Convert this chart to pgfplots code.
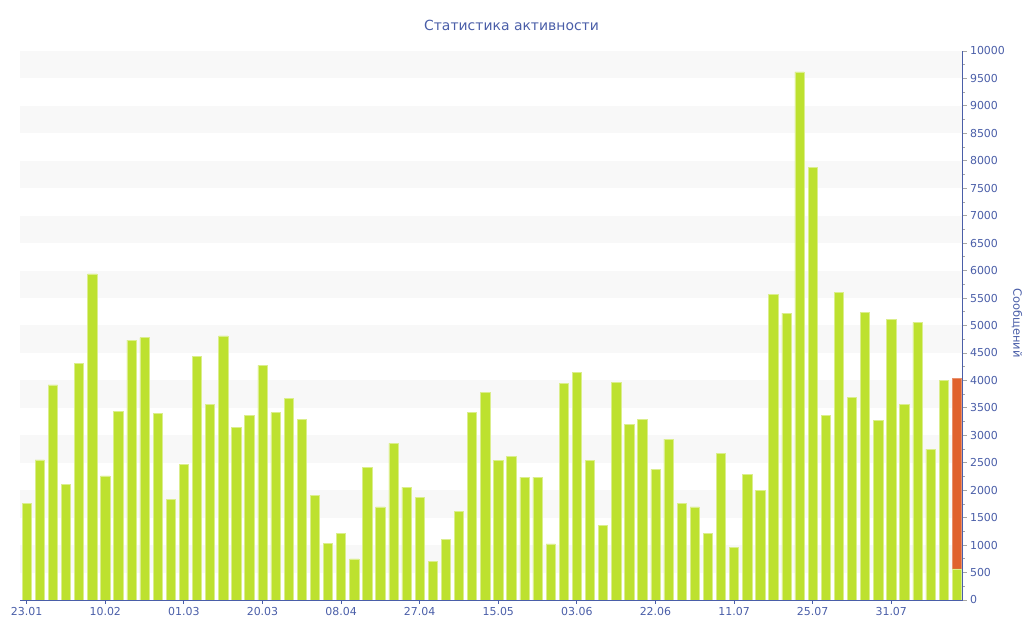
\documentclass[border=0pt]{standalone}
\usepackage{fontspec}
\setmainfont{DejaVu Sans}
\usepackage{pgfplots}
\pgfplotsset{compat=1.18}
\definecolor{barG}{HTML}{BDE12F}
\definecolor{barO}{HTML}{E0622E}
\definecolor{txtB}{HTML}{4A5EA8}
\definecolor{band}{HTML}{F8F8F8}
\begin{document}
\begin{tikzpicture}[x=1bp,y=1bp]
\path (0,0) rectangle (1024,640);
\node[text=txtB, font=\fontsize{14}{16}\selectfont] at (511.5,615) {Статистика активности};
\node[text=txtB, rotate=-90, font=\fontsize{11.5}{13}\selectfont, inner sep=0pt] at (1017,317) {Сообщений};
\begin{axis}[
  at={(20bp,40bp)}, anchor=south west,
  width=942.5bp, height=549bp, scale only axis,
  set layers,
  xmin=-0.51, xmax=71.44, ymin=0, ymax=10000,
  axis x line*=bottom, axis y line*=right,
  axis line style={-, draw=txtB, line width=0.8bp},
  ytick={0,500,...,10000},
  minor y tick num=1,
  xtick={0,6,...,66},
  xticklabels={23.01,10.02,01.03,20.03,08.04,27.04,15.05,03.06,22.06,11.07,25.07,31.07},
  ticklabel style={font=\fontsize{11}{13}\selectfont, text=txtB},
  /pgf/number format/assume math mode=true,
  /pgf/number format/set thousands separator={},
  scaled y ticks=false,
  tick align=outside,
  major tick length=4bp, minor tick length=2bp,
  y tick style={black!35, line width=0.8bp},
  x tick style={txtB, line width=0.8bp},
  ybar, bar width=9.3bp, bar shift=0pt,
]
\begin{pgfonlayer}{axis background}
\fill[band] (axis cs:-0.51,500) rectangle (axis cs:71.44,1000);
\fill[band] (axis cs:-0.51,1500) rectangle (axis cs:71.44,2000);
\fill[band] (axis cs:-0.51,2500) rectangle (axis cs:71.44,3000);
\fill[band] (axis cs:-0.51,3500) rectangle (axis cs:71.44,4000);
\fill[band] (axis cs:-0.51,4500) rectangle (axis cs:71.44,5000);
\fill[band] (axis cs:-0.51,5500) rectangle (axis cs:71.44,6000);
\fill[band] (axis cs:-0.51,6500) rectangle (axis cs:71.44,7000);
\fill[band] (axis cs:-0.51,7500) rectangle (axis cs:71.44,8000);
\fill[band] (axis cs:-0.51,8500) rectangle (axis cs:71.44,9000);
\fill[band] (axis cs:-0.51,9500) rectangle (axis cs:71.44,10000);
\end{pgfonlayer}
\addplot[fill=barO, draw=barO!70!white, line width=0.5bp] coordinates {(71,4048)};
\addplot[fill=barG, draw=barG!55!white, line width=0.5bp] coordinates {
(0,1760) (1,2550) (2,3920) (3,2110) (4,4310) (5,5940) (6,2260) (7,3430)
(8,4735) (9,4777) (10,3405) (11,1839) (12,2471) (13,4443) (14,3569) (15,4813)
(16,3138) (17,3369) (18,4274) (19,3411) (20,3673) (21,3296) (22,1906) (23,1025)
(24,1214) (25,747) (26,2422) (27,1694) (28,2853) (29,2058) (30,1876) (31,710)
(32,1105) (33,1615) (34,3418) (35,3788) (36,2549) (37,2622) (38,2240) (39,2240)
(40,1020) (41,3952) (42,4152) (43,2549) (44,1366) (45,3970) (46,3199) (47,3290)
(48,2380) (49,2932) (50,1766) (51,1694) (52,1220) (53,2677) (54,953) (55,2294)
(56,1997) (57,5560) (58,5226) (59,9621) (60,7885) (61,3369) (62,5609) (63,3690)
(64,5239) (65,3272) (66,5111) (67,3569) (68,5057) (69,2750) (70,3994) (71,565)
};
\end{axis}
\end{tikzpicture}
\end{document}
